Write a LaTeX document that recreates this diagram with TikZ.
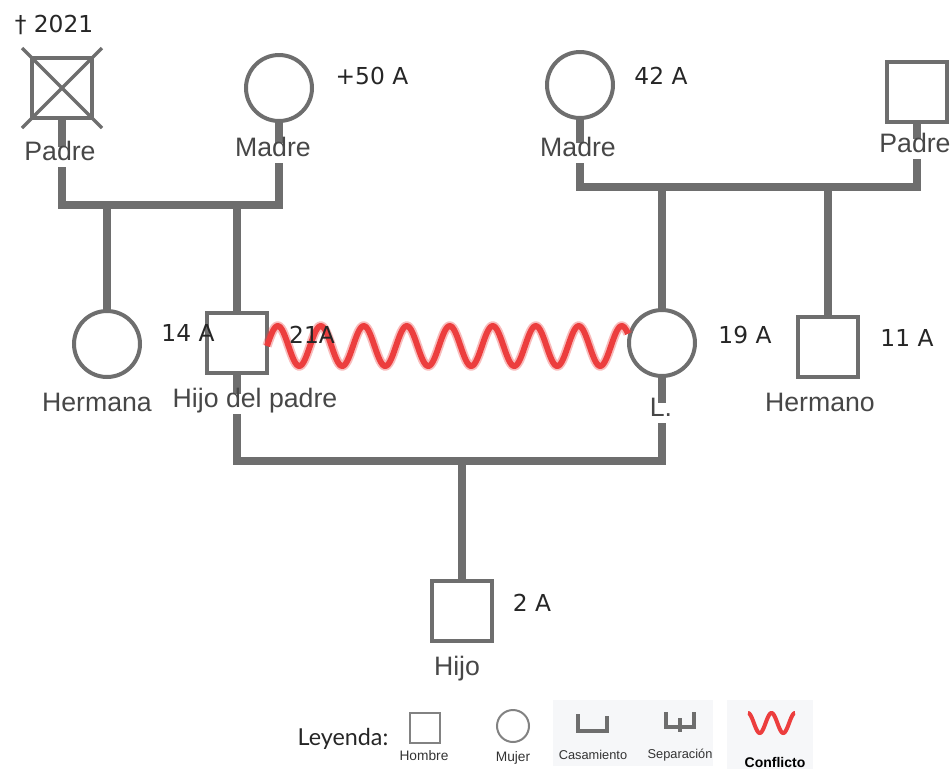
\documentclass[tikz,border=0pt]{standalone}
\usepackage{fontspec}
\setmainfont{Liberation Sans}
\newfontfamily\agefont{DejaVu Sans}
\newfontfamily\legfont{Lato}
\definecolor{ln}{RGB}{110,110,110}
\definecolor{lgl}{RGB}{130,130,130}
\definecolor{cf}{RGB}{236,62,62}
\definecolor{pan}{RGB}{246,247,249}
\begin{document}
\begin{tikzpicture}[x=0.75pt,y=-0.75pt,
 male/.style={draw=ln,line width=3pt,minimum size=45pt,inner sep=0pt,fill=white},
 female/.style={circle,draw=ln,line width=3pt,minimum size=49.5pt,inner sep=0pt,fill=white},
 link/.style={draw=ln,line width=6pt},
 lab/.style={fill=white,inner xsep=1pt,inner ysep=3pt,text height=0.72em,text depth=0.2em,font=\fontsize{20}{22}\selectfont,text=black!72},
 age/.style={inner sep=0pt,font=\agefont\fontsize{17.5}{20}\selectfont,text=black!85},
 legtxt/.style={inner sep=0pt,font=\fontsize{10.3}{12}\selectfont,text=black!80},
]
\useasboundingbox (0,0) rectangle (951,769);
% people
\node[male] (padreL) at (62,88) {};
\draw[ln,line width=2.5pt] (22,48) -- (102,128) (102,48) -- (22,128);
\node[female] (madreL) at (279,88) {};
\node[female] (madreR) at (580,85) {};
\node[male] (padreR) at (917,92) {};
\node[female] (hermana) at (107,344) {};
\node[male] (hdp) at (237,343) {};
\node[female] (L) at (662,343) {};
\node[male] (hermano) at (828,347) {};
\node[male] (hijo) at (462,611) {};
% marriage levels
\coordinate (mLy) at (0,205);
\coordinate (mRy) at (0,187);
\coordinate (mBy) at (0,461);
\draw[link] (padreL.south) -- (padreL.south |- mLy) -| (madreL.south);
\draw[link] (hermana.north) -- (hermana.north |- mLy);
\draw[link] (hdp.north) -- (hdp.north |- mLy);
\draw[link] (madreR.south) -- (madreR.south |- mRy) -| (padreR.south);
\draw[link] (L.north) -- (L.north |- mRy);
\draw[link] (hermano.north) -- (hermano.north |- mRy);
\draw[link] (hdp.south) -- (hdp.south |- mBy) -| (L.south);
\draw[link] (hijo.north) -- (hijo.north |- mBy);
% conflict
\draw[cf,opacity=0.35,line width=7pt] plot[domain=267:628,samples=400] (\x,{346-20*sin((\x-267)/43*360)});
\draw[cf,line width=4.4pt] plot[domain=267:628,samples=400] (\x,{346-20*sin((\x-267)/43*360)});
% labels
\node[lab] (lpadreL) at (60,157) {Padre};
\node[lab] (lmadreL) at (273,153) {Madre};
\node[lab] (lmadreR) at (578,153) {Madre};
\node[lab] (lpadreR) at (915,149) {Padre};
\node[lab] (lhermana) at (97,408) {Hermana};
\node[lab] (lhdp) at (255,404) {Hijo del padre};
\node[lab] (lL) at (661,413) {L.};
\node[lab] (lhermano) at (820,408) {Hermano};
\node[lab] (lhijo) at (457,672) {Hijo};
% ages
\node[age] (a0) at (54,25) {† 2021};
\node[age] (a1) at (372,76) {+50 A};
\node[age] (a2) at (661,76) {42 A};
\node[age] (a3) at (188,333) {14 A};
\node[age] (a4) at (312,335) {21A};
\node[age] (a5) at (745,335) {19 A};
\node[age] (a6) at (907,338) {11 A};
\node[age] (a7) at (532,603) {2 A};
% legend
\fill[pan] (553,700) rectangle (713,766);
\fill[pan] (727,700) rectangle (813,769);
\node[inner sep=0pt,font=\legfont\fontsize{17.5}{20}\selectfont,text=black!85] (leg) at (343,739) {Leyenda:};
\node[draw=lgl,line width=1.5pt,minimum size=22.5pt,inner sep=0pt] (legM) at (425,728) {};
\node[legtxt] (legMt) at (424,756) {Hombre};
\node[circle,draw=lgl,line width=1.5pt,minimum size=24pt,inner sep=0pt] (legF) at (513,726) {};
\node[legtxt] (legFt) at (513,758) {Mujer};
\draw[ln,line width=2.5pt] (578,714) -- (578,731) -- (607,731) -- (607,716);
\node[legtxt,font=\fontsize{9.6}{11}\selectfont] (legC) at (593,755) {Casamiento};
\draw[ln,line width=2.5pt] (666,712) -- (666,727) -- (694,727) -- (694,712);
\draw[ln,line width=2.5pt] (680,718) -- (680,732);
\node[legtxt,font=\fontsize{9.6}{11}\selectfont] (legS) at (680,755) {Separación};
\draw[cf,line width=3pt] plot[domain=0:47,samples=120] ({748+\x},{723-10*cos(\x/23.5*360)});
\node[legtxt,font=\bfseries\fontsize{10.5}{12}\selectfont,text=black] (legX) at (775,762) {Conflicto};
\end{tikzpicture}
\end{document}
